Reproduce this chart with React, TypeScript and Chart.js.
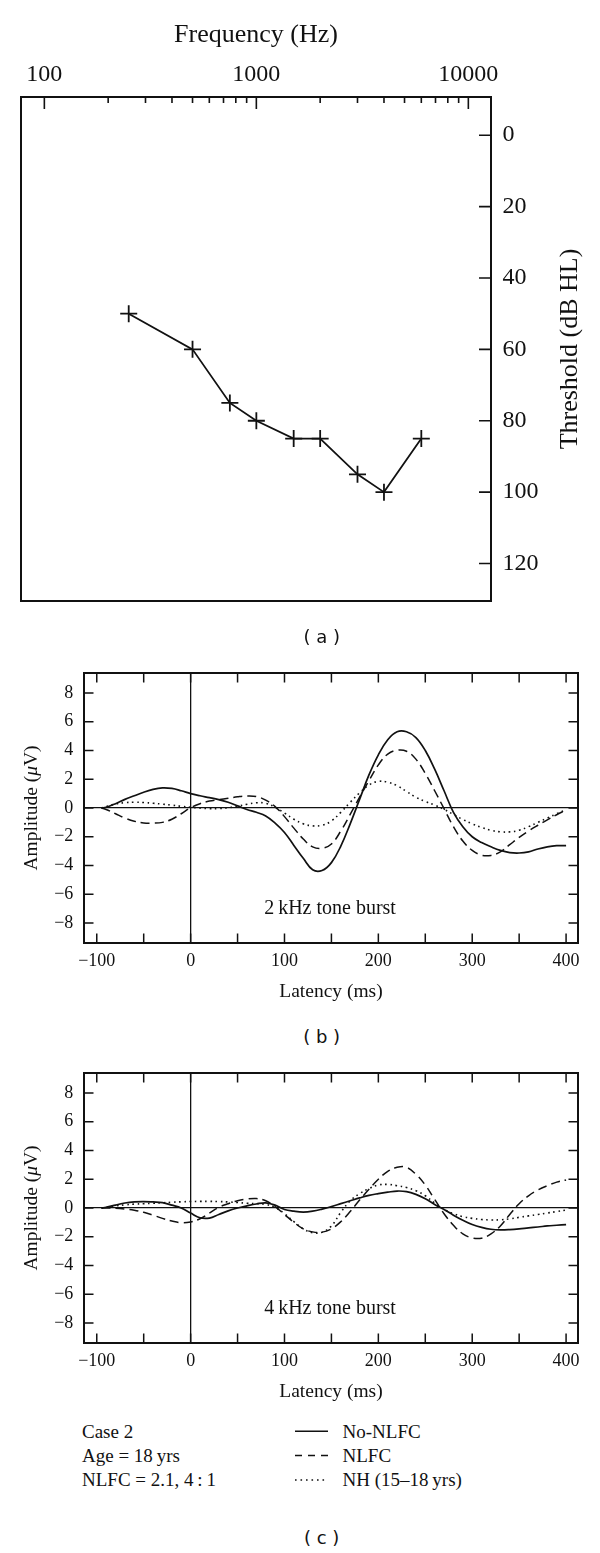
import React, { useEffect, useRef } from "react";
import { Chart, registerables } from "chart.js";

Chart.register(...registerables);

// ---------------- Data ----------------
// (a) audiogram
const audioFreqs = [250, 500, 750, 1000, 1500, 2000, 3000, 4000, 6000];
const audioThresholds = [50, 60, 75, 80, 85, 85, 95, 100, 85];
const freqTickValues = [100, 200, 300, 400, 500, 600, 700, 800, 900, 1000, 2000, 3000, 4000, 5000, 6000, 7000, 8000, 9000, 10000];
const freqLabelValues = [100, 1000, 10000];
const thresholdTicks = [0, 20, 40, 60, 80, 100, 120];

// (b), (c) cortical responses
const latencies = [-95, -90, -80, -70, -60, -50, -40, -30, -20, -10, 0, 10, 20, 30, 40, 50, 60, 70, 80, 90, 100, 110, 120, 130, 140, 150, 160, 170, 180, 190, 200, 210, 220, 230, 240, 250, 260, 270, 280, 290, 300, 310, 320, 330, 340, 350, 360, 370, 380, 390, 400];

const b2NoNlfc = [0, 0.05, 0.3, 0.6, 0.85, 1.1, 1.3, 1.4, 1.36, 1.2,
  1.0, 0.85, 0.72, 0.58, 0.4, 0.15, -0.1, -0.3, -0.55, -1.05,
  -1.7, -2.6, -3.5, -4.3, -4.35, -3.8, -2.65, -1.1, 0.6, 2.3,
  3.7, 4.75, 5.3, 5.3, 4.9, 4.0, 2.7, 1.2, -0.3, -1.3,
  -2.0, -2.4, -2.7, -2.95, -3.1, -3.13, -3.05, -2.85, -2.7, -2.62, -2.62];
const b2Nlfc = [0, -0.1, -0.4, -0.7, -0.92, -1.04, -1.05, -1.0, -0.78, -0.4,
  0.02, 0.3, 0.48, 0.58, 0.68, 0.78, 0.84, 0.8, 0.55, 0.1,
  -0.6, -1.4, -2.15, -2.7, -2.8, -2.5, -1.6, -0.45, 0.75, 1.9,
  3.0, 3.75, 4.02, 3.95, 3.4, 2.4, 1.2, -0.05, -1.3, -2.3,
  -2.95, -3.28, -3.3, -3.05, -2.55, -2.05, -1.6, -1.2, -0.82, -0.47, -0.14];
const b2Nh = [0, 0.1, 0.28, 0.37, 0.4, 0.38, 0.33, 0.27, 0.2, 0.12,
  0.05, 0.0, -0.04, -0.04, 0.02, 0.12, 0.26, 0.36, 0.33, 0.05,
  -0.35, -0.78, -1.1, -1.24, -1.2, -0.9, -0.3, 0.4, 1.05, 1.6,
  1.85, 1.8, 1.55, 1.15, 0.75, 0.45, 0.2, -0.1, -0.45, -0.8,
  -1.1, -1.35, -1.55, -1.66, -1.66, -1.55, -1.3, -1.0, -0.7, -0.4, -0.12];

const c4NoNlfc = [0, 0.05, 0.2, 0.35, 0.43, 0.45, 0.42, 0.37, 0.2, 0.0,
  -0.35, -0.68, -0.7, -0.45, -0.2, 0.0, 0.15, 0.28, 0.36, 0.2,
  -0.1, -0.22, -0.28, -0.22, -0.08, 0.1, 0.3, 0.5, 0.7, 0.88,
  1.0, 1.1, 1.18, 1.14, 0.95, 0.65, 0.25, -0.1, -0.5, -0.85,
  -1.15, -1.35, -1.48, -1.52, -1.5, -1.45, -1.38, -1.32, -1.25, -1.2, -1.15];
const c4Nlfc = [0, 0, -0.02, -0.07, -0.15, -0.3, -0.5, -0.72, -0.9, -1.02,
  -0.97, -0.75, -0.35, 0.05, 0.3, 0.5, 0.62, 0.66, 0.5, 0.1,
  -0.45, -1.0, -1.45, -1.66, -1.68, -1.45, -0.95, -0.25, 0.55, 1.3,
  2.0, 2.55, 2.83, 2.83, 2.35, 1.6, 0.6, -0.4, -1.2, -1.8,
  -2.08, -2.1, -1.8, -1.25, -0.45, 0.3, 0.85, 1.25, 1.55, 1.8, 1.95];
const c4Nh = [0, 0.05, 0.15, 0.22, 0.27, 0.3, 0.33, 0.36, 0.4, 0.43,
  0.45, 0.46, 0.46, 0.45, 0.42, 0.38, 0.33, 0.3, 0.25, 0.05,
  -0.4, -0.95, -1.45, -1.72, -1.68, -1.25, -0.3, 0.5, 1.0, 1.35,
  1.6, 1.64, 1.55, 1.42, 1.2, 0.85, 0.35, -0.1, -0.4, -0.6,
  -0.72, -0.8, -0.83, -0.82, -0.75, -0.65, -0.55, -0.45, -0.35, -0.25, -0.15];

const latencyTicks = [-100, -50, 0, 50, 100, 150, 200, 250, 300, 350, 400];
const latencyLabels = [-100, 0, 100, 200, 300, 400];
const amplitudeTicks = [-8, -6, -4, -2, 0, 2, 4, 6, 8];

const seriesNames = ["No-NLFC", "NLFC", "NH (15\u201318\u2009yrs)"];
const caseInfo = ["Case 2", "Age = 18\u2009yrs", "NLFC = 2.1, 4\u2009:\u20091"];

// ---------------- Style ----------------
const SERIF = "'Liberation Serif', 'Times New Roman', Times, serif";
const SANS = "'DejaVu Sans', Verdana, sans-serif";
const INK = "#111111";

const fmt = (v: number) => (v < 0 ? "\u2212" + Math.abs(v) : String(v));

type Seg = { text: string; font: string };
type TextItem = { segs: Seg[]; x: number; y: number; rot: number; data?: boolean };
type TickSet = { scale: string; sides: string[]; values: number[]; length: number };

function makeDecor(cfg: { ticks: TickSet[]; texts: TextItem[]; frame: number; tickWidth: number }) {
  return {
    id: "decor",
    afterDraw(chart: any) {
      const { ctx, chartArea: a } = chart;
      ctx.save();
      ctx.strokeStyle = INK;
      ctx.fillStyle = INK;
      ctx.lineWidth = cfg.tickWidth;
      ctx.lineCap = "butt";
      for (const t of cfg.ticks) {
        const sc = chart.scales[t.scale];
        ctx.beginPath();
        for (const v of t.values) {
          const p = sc.getPixelForValue(v);
          for (const side of t.sides) {
            if (side === "top") { ctx.moveTo(p, a.top); ctx.lineTo(p, a.top + t.length); }
            if (side === "bottom") { ctx.moveTo(p, a.bottom); ctx.lineTo(p, a.bottom - t.length); }
            if (side === "left") { ctx.moveTo(a.left, p); ctx.lineTo(a.left + t.length, p); }
            if (side === "right") { ctx.moveTo(a.right, p); ctx.lineTo(a.right - t.length, p); }
          }
        }
        ctx.stroke();
      }
      ctx.lineWidth = cfg.frame;
      ctx.strokeRect(a.left, a.top, a.right - a.left, a.bottom - a.top);
      for (const tx of cfg.texts) {
        const x = tx.data ? chart.scales.x.getPixelForValue(tx.x) : tx.x;
        const y = tx.data ? chart.scales.y.getPixelForValue(tx.y) : tx.y;
        ctx.save();
        ctx.translate(x, y);
        ctx.rotate(tx.rot);
        ctx.textBaseline = "middle";
        ctx.textAlign = "left";
        let total = 0;
        const ws = tx.segs.map((s) => { ctx.font = s.font; const w = ctx.measureText(s.text).width; total += w; return w; });
        let cx = -total / 2;
        tx.segs.forEach((s, i) => { ctx.font = s.font; ctx.fillText(s.text, cx, 0); cx += ws[i]; });
        ctx.restore();
      }
      ctx.restore();
    },
  };
}

function buildAudiogram(): any {
  const decor = makeDecor({
    frame: 2,
    tickWidth: 1.6,
    ticks: [
      { scale: "x", sides: ["top"], values: freqTickValues.filter((v) => !freqLabelValues.includes(v)), length: 6 },
      { scale: "x", sides: ["top"], values: freqLabelValues, length: 12 },
      { scale: "y", sides: ["right"], values: thresholdTicks, length: 12 },
    ],
    texts: [{ segs: [{ text: "Threshold (dB HL)", font: `26px ${SERIF}` }], x: 570, y: 349, rot: -Math.PI / 2 }],
  });
  return {
    type: "line",
    data: {
      datasets: [
        {
          data: audioFreqs.map((f, i) => ({ x: f, y: audioThresholds[i] })),
          borderColor: INK,
          borderWidth: 1.8,
          pointStyle: "cross",
          pointRadius: 8.5,
          pointBorderWidth: 1.8,
          pointBorderColor: INK,
          pointBackgroundColor: INK,
          tension: 0,
          fill: false,
        },
      ],
    },
    options: {
      animation: false,
      responsive: false,
      devicePixelRatio: 1,
      events: [],
      layout: { padding: { left: 21, right: 0, top: 0, bottom: 59 } },
      plugins: { legend: { display: false }, tooltip: { enabled: false } },
      scales: {
        x: {
          type: "logarithmic",
          position: "top",
          min: 77.6,
          max: 12790,
          afterBuildTicks: (s: any) => { s.ticks = freqTickValues.map((v) => ({ value: v })); },
          afterFit: (s: any) => { s.height = 97; s.paddingLeft = 0; s.paddingRight = 0; },
          ticks: {
            autoSkip: false,
            maxRotation: 0,
            padding: 7.6,
            color: INK,
            font: { family: SERIF, size: 24 },
            callback: (v: any) => (freqLabelValues.includes(Number(v)) ? String(v) : ""),
          },
          grid: { display: false, drawTicks: false },
          border: { display: false },
          title: { display: true, text: "Frequency (Hz)", color: INK, font: { family: SERIF, size: 26 }, padding: { top: 19.4, bottom: 0 } },
        },
        y: {
          type: "linear",
          position: "right",
          reverse: true,
          min: -10.7,
          max: 130.5,
          afterBuildTicks: (s: any) => { s.ticks = thresholdTicks.map((v) => ({ value: v })); },
          afterFit: (s: any) => { s.width = 109; s.paddingTop = 0; s.paddingBottom = 0; },
          ticks: { padding: 11.5, color: INK, font: { family: SERIF, size: 24 }, callback: (v: any) => String(v) },
          grid: { display: false, drawTicks: false },
          border: { display: false },
        },
      },
    },
    plugins: [decor],
  };
}

function buildResponse(solid: number[], dashed: number[], dotted: number[], label: string): any {
  const decor = makeDecor({
    frame: 2,
    tickWidth: 1.5,
    ticks: [
      { scale: "x", sides: ["top", "bottom"], values: latencyTicks, length: 9.5 },
      { scale: "y", sides: ["left", "right"], values: amplitudeTicks, length: 9.5 },
    ],
    texts: [
      {
        segs: [
          { text: "Amplitude (", font: `19.5px ${SERIF}` },
          { text: "\u03bc", font: `italic 19.5px ${SERIF}` },
          { text: "V)", font: `19.5px ${SERIF}` },
        ],
        x: 32,
        y: 168,
        rot: -Math.PI / 2,
      },
      { segs: [{ text: label, font: `20px ${SERIF}` }], x: 148.5, y: -7.0, rot: 0, data: true },
    ],
  });
  const mk = (vals: number[], dash: number[], width: number) => ({
    data: latencies.map((x, i) => ({ x, y: vals[i] })),
    borderColor: INK,
    borderWidth: width,
    borderDash: dash,
    borderCapStyle: "butt",
    pointRadius: 0,
    tension: 0.4,
    fill: false,
  });
  const zeroColor = (c: any) => (c.tick && c.tick.value === 0 ? INK : "rgba(0,0,0,0)");
  return {
    type: "line",
    data: { datasets: [mk(solid, [], 1.7), mk(dashed, [9, 5], 1.5), mk(dotted, [1.6, 3.6], 1.6)] },
    options: {
      animation: false,
      responsive: false,
      devicePixelRatio: 1,
      events: [],
      layout: { padding: { left: 0, right: 22, top: 33, bottom: 0 } },
      plugins: { legend: { display: false }, tooltip: { enabled: false } },
      scales: {
        x: {
          type: "linear",
          position: "bottom",
          min: -113.6,
          max: 412.7,
          afterBuildTicks: (s: any) => { s.ticks = latencyTicks.map((v) => ({ value: v })); },
          afterFit: (s: any) => { s.height = 77; s.paddingLeft = 0; s.paddingRight = 0; },
          ticks: {
            autoSkip: false,
            maxRotation: 0,
            padding: 7.9,
            color: INK,
            font: { family: SERIF, size: 18 },
            callback: (v: any) => (latencyLabels.includes(Number(v)) ? fmt(Number(v)) : ""),
          },
          grid: { display: true, drawTicks: false, color: zeroColor, lineWidth: 1.3 },
          border: { display: false },
          title: { display: true, text: "Latency (ms)", color: INK, font: { family: SERIF, size: 19.5 }, padding: { top: 0, bottom: 16.6 } },
        },
        y: {
          type: "linear",
          position: "left",
          min: -9.39,
          max: 9.39,
          afterBuildTicks: (s: any) => { s.ticks = amplitudeTicks.map((v) => ({ value: v })); },
          afterFit: (s: any) => { s.width = 84; s.paddingTop = 0; s.paddingBottom = 0; },
          ticks: { padding: 10.7, color: INK, font: { family: SERIF, size: 18 }, callback: (v: any) => fmt(Number(v)) },
          grid: { display: true, drawTicks: false, color: zeroColor, lineWidth: 1.3 },
          border: { display: false },
        },
      },
    },
    plugins: [decor],
  };
}

function ChartCanvas({ build, top, height }: { build: () => any; top: number; height: number }) {
  const ref = useRef<HTMLCanvasElement | null>(null);
  useEffect(() => {
    const cfg = build();
    const chart = new Chart(ref.current as HTMLCanvasElement, cfg);
    return () => chart.destroy();
  }, []);
  return (
    <canvas
      ref={ref}
      width={600}
      height={height}
      style={{ position: "absolute", left: 0, top, width: 600, height, display: "block" }}
    />
  );
}

function Caption({ text, y }: { text: string; y: number }) {
  return (
    <div
      style={{
        position: "absolute",
        left: 221.7,
        width: 200,
        top: y - 11,
        height: 22,
        lineHeight: "22px",
        textAlign: "center",
        fontFamily: SANS,
        fontSize: 18,
        color: INK,
        whiteSpace: "pre",
      }}
    >
      {text}
    </div>
  );
}

export default function App() {
  const rowH = 24.4;
  const legendTop = 1431.7 - rowH / 2;
  const dashes = ["", "7 6", "1.6 3.9"];
  return (
    <div style={{ position: "absolute", left: 0, top: 0, width: 600, height: 1553, background: "#fff", overflow: "hidden" }}>
      <ChartCanvas build={buildAudiogram} top={0} height={660} />
      <Caption text="( a )" y={636.7} />
      <ChartCanvas build={() => buildResponse(b2NoNlfc, b2Nlfc, b2Nh, "2\u2009kHz tone burst")} top={640} height={380} />
      <Caption text="( b )" y={1036.7} />
      <ChartCanvas build={() => buildResponse(c4NoNlfc, c4Nlfc, c4Nh, "4\u2009kHz tone burst")} top={1040} height={380} />
      <div style={{ position: "absolute", left: 82, top: legendTop, fontFamily: SERIF, fontSize: 19, lineHeight: rowH + "px", color: INK, whiteSpace: "pre" }}>
        {caseInfo.map((t) => (<div key={t}>{t}</div>))}
      </div>
      <svg style={{ position: "absolute", left: 294, top: legendTop, overflow: "visible" }} width={36} height={rowH * 3}>
        {seriesNames.map((n, i) => (
          <line key={n} x1={1} x2={34} y1={rowH * i + rowH / 2 - 1} y2={rowH * i + rowH / 2 - 1} stroke={INK} strokeWidth={1.5} strokeDasharray={dashes[i] || undefined} />
        ))}
      </svg>
      <div style={{ position: "absolute", left: 342.5, top: legendTop, fontFamily: SERIF, fontSize: 19, lineHeight: rowH + "px", color: INK, whiteSpace: "pre" }}>
        {seriesNames.map((t) => (<div key={t}>{t}</div>))}
      </div>
      <Caption text="( c )" y={1538.3} />
    </div>
  );
}
